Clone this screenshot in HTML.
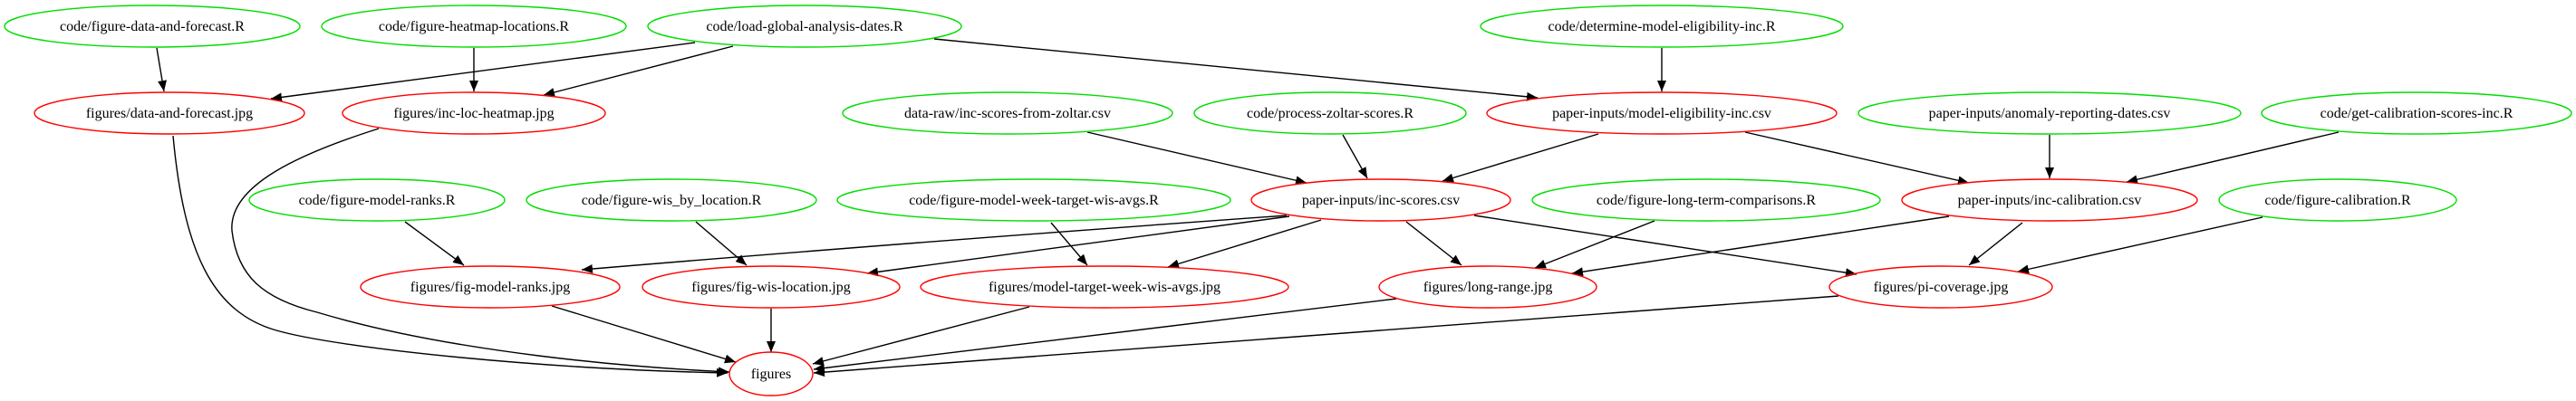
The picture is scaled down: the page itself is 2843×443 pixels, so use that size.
<!DOCTYPE html>
<html><head><meta charset="utf-8"><style>html,body{margin:0;padding:0;background:#fff}svg{display:block}</style></head><body>
<svg width="2843" height="443" viewBox="0 0 2843 443" xmlns="http://www.w3.org/2000/svg">
<defs>
<marker id="a" markerUnits="userSpaceOnUse" markerWidth="13" markerHeight="10" refX="12" refY="5" orient="auto"><path d="M0,0 L12,5 L0,10 z" fill="#000"/></marker>
</defs>
<g fill="none" stroke="#000" stroke-width="1.4" marker-end="url(#a)">
<path d="M173,53 L181,101"/>
<path d="M523,53 L523,101"/>
<path d="M767,47 L299,109"/>
<path d="M809,51 L600,105"/>
<path d="M1031,43 L1697,108"/>
<path d="M1834,53 L1834,101"/>
<path d="M1200,146 L1442,202"/>
<path d="M1482,149 L1509,197"/>
<path d="M1764,148 L1592,200"/>
<path d="M1926,146 L2173,202"/>
<path d="M2262,149 L2262,197"/>
<path d="M2581,146 L2347,201"/>
<path d="M447,245 L512,293"/>
<path d="M768,245 L824,293"/>
<path d="M1420,238 Q1000,268 642,298"/>
<path d="M1423,239 Q1200,270 957,302"/>
<path d="M1160,246 L1200,293"/>
<path d="M1458,243 L1289,295"/>
<path d="M1552,245 L1613,293"/>
<path d="M1826,244 L1694,296"/>
<path d="M1627,238 L2049,303"/>
<path d="M2151,239 L1735,302"/>
<path d="M2232,246 L2173,293"/>
<path d="M2497,240 L2227,300"/>
<path d="M191,150 C203,280 235,345 305,365 S600,408 803,412"/>
<path d="M418,142 C330,170 252,205 256,255 C262,305 290,330 350,345 C500,390 700,406 805,411"/>
<path d="M609,338 L812,400"/>
<path d="M851,341 L851,389"/>
<path d="M1136,339 L897,402"/>
<path d="M1541,330 L898,408"/>
<path d="M2029,327 L898,412"/>
</g>
<g fill="none" stroke-width="1.4">
<g stroke="#00dd00">
<ellipse cx="168" cy="29" rx="163" ry="23"/>
<ellipse cx="523" cy="29" rx="168" ry="23"/>
<ellipse cx="888" cy="29" rx="173" ry="23"/>
<ellipse cx="1834" cy="29" rx="200" ry="23"/>
<ellipse cx="1112" cy="125" rx="182" ry="23"/>
<ellipse cx="1468" cy="125" rx="150" ry="23"/>
<ellipse cx="2262" cy="125" rx="211" ry="23"/>
<ellipse cx="2667" cy="125" rx="171" ry="23"/>
<ellipse cx="416" cy="221" rx="141" ry="23"/>
<ellipse cx="741" cy="221" rx="160" ry="23"/>
<ellipse cx="1141" cy="221" rx="217" ry="23"/>
<ellipse cx="1883" cy="221" rx="192" ry="23"/>
<ellipse cx="2580" cy="221" rx="131" ry="23"/>
</g>
<g stroke="#ff0000">
<ellipse cx="187" cy="125" rx="149" ry="23"/>
<ellipse cx="523" cy="125" rx="145" ry="23"/>
<ellipse cx="1834" cy="125" rx="193" ry="23"/>
<ellipse cx="1524" cy="221" rx="143" ry="23"/>
<ellipse cx="2262" cy="221" rx="163" ry="23"/>
<ellipse cx="541" cy="317" rx="143" ry="23"/>
<ellipse cx="851" cy="317" rx="142" ry="23"/>
<ellipse cx="1219" cy="317" rx="203" ry="23"/>
<ellipse cx="1642" cy="317" rx="120" ry="23"/>
<ellipse cx="2142" cy="317" rx="123" ry="23"/>
<ellipse cx="851" cy="413" rx="46" ry="24"/>
</g>
</g>
<g font-family="Liberation Serif, serif" font-size="16" text-anchor="middle" fill="#000">
<text x="168" y="34">code/figure-data-and-forecast.R</text>
<text x="523" y="34">code/figure-heatmap-locations.R</text>
<text x="888" y="34">code/load-global-analysis-dates.R</text>
<text x="1834" y="34">code/determine-model-eligibility-inc.R</text>
<text x="187" y="130">figures/data-and-forecast.jpg</text>
<text x="523" y="130">figures/inc-loc-heatmap.jpg</text>
<text x="1112" y="130">data-raw/inc-scores-from-zoltar.csv</text>
<text x="1468" y="130">code/process-zoltar-scores.R</text>
<text x="1834" y="130">paper-inputs/model-eligibility-inc.csv</text>
<text x="2262" y="130">paper-inputs/anomaly-reporting-dates.csv</text>
<text x="2667" y="130">code/get-calibration-scores-inc.R</text>
<text x="416" y="226">code/figure-model-ranks.R</text>
<text x="741" y="226">code/figure-wis_by_location.R</text>
<text x="1141" y="226">code/figure-model-week-target-wis-avgs.R</text>
<text x="1524" y="226">paper-inputs/inc-scores.csv</text>
<text x="1883" y="226">code/figure-long-term-comparisons.R</text>
<text x="2262" y="226">paper-inputs/inc-calibration.csv</text>
<text x="2580" y="226">code/figure-calibration.R</text>
<text x="541" y="322">figures/fig-model-ranks.jpg</text>
<text x="851" y="322">figures/fig-wis-location.jpg</text>
<text x="1219" y="322">figures/model-target-week-wis-avgs.jpg</text>
<text x="1642" y="322">figures/long-range.jpg</text>
<text x="2142" y="322">figures/pi-coverage.jpg</text>
<text x="851" y="418">figures</text>
</g>
</svg>
</body></html>
